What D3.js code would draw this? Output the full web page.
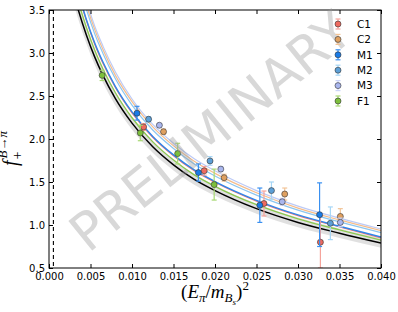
<!DOCTYPE html>
<html>
<head>
<meta charset="utf-8">
<script src="https://cdn.jsdelivr.net/npm/d3@7"></script>
<style>
body { margin: 0; background: #fff; }
text { font-family: "DejaVu Sans", sans-serif; }
</style>
</head>
<body>
<div id="chart"></div>
<script>
// fit curves at a few x positions
var xGrid   = [0.003, 0.0035, 0.0045, 0.0055, 0.0065, 0.008, 0.01, 0.0125, 0.015, 0.0175, 0.02, 0.025, 0.03, 0.035, 0.04];
var fitBlack = [3.68, 3.51, 3.21, 2.955, 2.74, 2.47, 2.185, 1.91, 1.70, 1.53, 1.40, 1.19, 1.03, 0.905, 0.79];
var bandErr  = [0.12, 0.11, 0.10, 0.09, 0.085, 0.08, 0.075, 0.07, 0.065, 0.062, 0.06, 0.058, 0.056, 0.055, 0.055];
var fitF1 = [3.785, 3.61, 3.30, 3.035, 2.815, 2.538, 2.247, 1.967, 1.755, 1.583, 1.45, 1.236, 1.072, 0.943, 0.825];
var fitC1 = [3.88, 3.70, 3.38, 3.105, 2.88, 2.60, 2.305, 2.02, 1.805, 1.63, 1.497, 1.278, 1.11, 0.978, 0.85];
var fitM1 = [3.90, 3.72, 3.39, 3.12, 2.895, 2.61, 2.315, 2.03, 1.815, 1.64, 1.505, 1.287, 1.117, 0.985, 0.86];
var fitM2 = [4.04, 3.85, 3.51, 3.225, 2.995, 2.70, 2.395, 2.105, 1.89, 1.71, 1.57, 1.348, 1.173, 1.036, 0.912];
var fitC2 = [4.10, 3.91, 3.56, 3.275, 3.04, 2.74, 2.435, 2.14, 1.92, 1.74, 1.60, 1.375, 1.197, 1.059, 0.935];
var fitM3 = [4.16, 3.96, 3.61, 3.315, 3.08, 2.78, 2.465, 2.17, 1.95, 1.77, 1.63, 1.40, 1.22, 1.08, 0.953];

// lattice data points
var c1X = [0.0114, 0.0187, 0.0259, 0.0327], c1Y = [2.14, 1.63, 1.25, 0.80], c1Err = [0.04, 0.05, 0.145, 0.30];
var c2X = [0.0138, 0.0211, 0.0284, 0.0351], c2Y = [2.085, 1.55, 1.36, 1.10], c2Err = [0.03, 0.04, 0.07, 0.09];
var m1X = [0.0106, 0.0180, 0.0254, 0.0326], m1Y = [2.30, 1.61, 1.23, 1.12], m1Err = [0.08, 0.10, 0.20, 0.37];
var m2X = [0.0120, 0.0194, 0.0268, 0.0339], m2Y = [2.23, 1.745, 1.40, 1.02], m2Err = [0.03, 0.05, 0.10, 0.19];
var m3X = [0.0133, 0.0207, 0.0281, 0.0351], m3Y = [2.16, 1.65, 1.27, 1.03], m3Err = [0.02, 0.03, 0.04, 0.05];
var f1X = [0.0064, 0.0110, 0.0155, 0.0199], f1Y = [2.74, 2.07, 1.83, 1.47], f1Err = [0.06, 0.09, 0.12, 0.18];

var seriesNames = ["C1", "C2", "M1", "M2", "M3", "F1"];
var xTicks = [0.000, 0.005, 0.010, 0.015, 0.020, 0.025, 0.030, 0.035, 0.040];
var yTicks = [0.5, 1.0, 1.5, 2.0, 2.5, 3.0, 3.5];
var pionLine = 0.00053;

var margins = {top: 10, right: 17, bottom: 44, left: 49};
var totalWidth = 398, totalHeight = 312;
var innerWidth = totalWidth - margins.left - margins.right;
var innerHeight = totalHeight - margins.top - margins.bottom;

var svg = d3.select("#chart").append("svg")
    .attr("width", totalWidth)
    .attr("height", totalHeight)
    .style("display", "block");
var g = svg.append("g")
    .attr("transform", "translate(" + margins.left + "," + margins.top + ")");

var xSca = d3.scaleLinear().domain([0, 0.04]).range([0, innerWidth]);
var ySca = d3.scaleLinear().domain([0.5, 3.5]).range([innerHeight, 0]);

g.append("defs").append("clipPath").attr("id", "clip")
    .append("rect").attr("width", innerWidth).attr("height", innerHeight);

var plot = g.append("g").attr("clip-path", "url(#clip)");

// grey error band round the black fit
var band = d3.area()
    .x(function(d, i) { return xSca(xGrid[i]); })
    .y0(function(d, i) { return ySca(d - bandErr[i]); })
    .y1(function(d, i) { return ySca(d + bandErr[i]); })
    .curve(d3.curveMonotoneX);
plot.append("path").datum(fitBlack)
    .attr("d", band)
    .attr("fill", "#000").attr("fill-opacity", 0.12);

var line = d3.line()
    .x(function(d, i) { return xSca(xGrid[i]); })
    .y(function(d) { return ySca(d); })
    .curve(d3.curveMonotoneX);

var fits = [
    {v: fitM3, c: "#bccaf6", w: 1.2},
    {v: fitC2, c: "#f5bd8c", w: 1.2},
    {v: fitM2, c: "#8cc6f0", w: 1.2},
    {v: fitC1, c: "#f07a70", w: 1.3},
    {v: fitM1, c: "#2f86ec", w: 1.4},
    {v: fitF1, c: "#8cc850", w: 1.3},
    {v: fitBlack, c: "#000", w: 1.5}
];
fits.forEach(function(f) {
    plot.append("path").datum(f.v)
        .attr("d", line)
        .attr("fill", "none")
        .attr("stroke", f.c)
        .attr("stroke-width", f.w);
});

// dashed vertical line near the physical pion mass
g.append("line")
    .attr("x1", xSca(pionLine)).attr("x2", xSca(pionLine))
    .attr("y1", 0).attr("y2", innerHeight)
    .attr("stroke", "#000").attr("stroke-width", 1.1)
    .attr("stroke-dasharray", "4,3");

var series = [
    {name: "C1", x: c1X, y: c1Y, e: c1Err, fill: "#ee6a5f", bar: "#f5a39b"},
    {name: "C2", x: c2X, y: c2Y, e: c2Err, fill: "#dfa060", bar: "#f2c497"},
    {name: "M1", x: m1X, y: m1Y, e: m1Err, fill: "#1a7be6", bar: "#3a90f0"},
    {name: "M2", x: m2X, y: m2Y, e: m2Err, fill: "#5c9fd6", bar: "#a6d6f6"},
    {name: "M3", x: m3X, y: m3Y, e: m3Err, fill: "#a9b6ee", bar: "#ccd4f8"},
    {name: "F1", x: f1X, y: f1Y, e: f1Err, fill: "#7cbf3c", bar: "#a8d874"}
];

var pts = plot.append("g");
series.forEach(function(s) {
    var sg = pts.append("g");
    s.x.forEach(function(xv, i) {
        var cx = xSca(xv), top = ySca(s.y[i] + s.e[i]), bot = ySca(s.y[i] - s.e[i]);
        sg.append("line").attr("x1", cx).attr("x2", cx).attr("y1", top).attr("y2", bot)
            .attr("stroke", s.bar).attr("stroke-width", 1.2);
        [top, bot].forEach(function(yy) {
            sg.append("line").attr("x1", cx - 2.5).attr("x2", cx + 2.5).attr("y1", yy).attr("y2", yy)
                .attr("stroke", s.bar).attr("stroke-width", 1.2);
        });
    });
    sg.selectAll("circle").data(s.x).enter().append("circle")
        .attr("cx", function(d) { return xSca(d); })
        .attr("cy", function(d, i) { return ySca(s.y[i]); })
        .attr("r", 3)
        .attr("fill", s.fill)
        .attr("stroke", "#333").attr("stroke-width", 0.6);
});

// watermark
svg.append("text")
    .attr("transform", "translate(210,131) rotate(-39)")
    .attr("text-anchor", "middle")
    .attr("dy", "0.36em")
    .attr("font-size", 52)
    .attr("fill", "#999").attr("fill-opacity", 0.38)
    .text("PRELIMINARY");

// axes, ticks pointing inwards on all four sides
var fmtX = d3.format(".3f"), fmtY = d3.format(".1f");
var xAA = g.append("g").attr("transform", "translate(0," + innerHeight + ")")
    .call(d3.axisBottom(xSca).tickValues(xTicks).tickSizeInner(-4).tickSizeOuter(0).tickPadding(5).tickFormat(fmtX));
var xTop = g.append("g")
    .call(d3.axisTop(xSca).tickValues(xTicks).tickSizeInner(-4).tickSizeOuter(0));
var yAA = g.append("g")
    .call(d3.axisLeft(ySca).tickValues(yTicks).tickSizeInner(-4).tickSizeOuter(0).tickPadding(4).tickFormat(fmtY));
var yRight = g.append("g").attr("transform", "translate(" + innerWidth + ",0)")
    .call(d3.axisRight(ySca).tickValues(yTicks).tickSizeInner(-4).tickSizeOuter(0));
xTop.selectAll("text").remove();
yRight.selectAll("text").remove();
[xAA, xTop, yAA, yRight].forEach(function(a) {
    a.select(".domain").remove();
    a.selectAll("text").attr("font-size", 10).attr("fill", "#000")
        .style("font-family", "'DejaVu Sans', sans-serif");
    a.selectAll(".tick line").attr("stroke", "#000");
});
g.append("rect")
    .attr("width", innerWidth).attr("height", innerHeight)
    .attr("fill", "none").attr("stroke", "#000").attr("stroke-width", 1);

// axis labels
var xl = svg.append("text")
    .attr("x", 215).attr("y", 298)
    .attr("text-anchor", "middle")
    .style("font-family", "'Liberation Serif', serif")
    .attr("font-size", 19);
xl.append("tspan").text("(");
xl.append("tspan").attr("font-style", "italic").text("E");
xl.append("tspan").attr("font-size", 13).attr("dy", 4).attr("font-style", "italic").text("π");
xl.append("tspan").attr("dy", -4).text("/");
xl.append("tspan").attr("font-style", "italic").text("m");
xl.append("tspan").attr("font-size", 13).attr("dy", 4).attr("font-style", "italic").text("B");
xl.append("tspan").attr("font-size", 9).attr("dy", 3).attr("font-style", "italic").text("s");
xl.append("tspan").attr("dy", -7).text(")");
xl.append("tspan").attr("font-size", 13).attr("dy", -8).text("2");

var yl = svg.append("text")
    .attr("transform", "translate(17,166) rotate(-90)")
    .style("font-family", "'Liberation Serif', serif")
    .attr("font-size", 20);
yl.append("tspan").attr("font-style", "italic").text("f");
yl.append("tspan").attr("font-size", 14).attr("dx", 1).attr("dy", 5).text("+");
yl.append("tspan").attr("font-size", 13).attr("dx", -7).attr("dy", -15).attr("font-style", "italic").text("B");
yl.append("tspan").attr("font-size", 13).text("→");
yl.append("tspan").attr("font-size", 13).attr("font-style", "italic").text("π");

// legend
var legend = svg.selectAll(".legend")
    .data(series)
    .enter().append("g")
    .attr("class", "legend")
    .attr("transform", function(d, i) { return "translate(338," + (24 + i * 15.4) + ")"; });
legend.append("line").attr("y1", -5).attr("y2", 5)
    .attr("stroke", function(d) { return d.bar; }).attr("stroke-width", 1.2);
legend.append("line").attr("x1", -2.5).attr("x2", 2.5).attr("y1", -5).attr("y2", -5)
    .attr("stroke", function(d) { return d.bar; }).attr("stroke-width", 1.2);
legend.append("line").attr("x1", -2.5).attr("x2", 2.5).attr("y1", 5).attr("y2", 5)
    .attr("stroke", function(d) { return d.bar; }).attr("stroke-width", 1.2);
legend.append("circle").attr("r", 3)
    .attr("fill", function(d) { return d.fill; })
    .attr("stroke", "#333").attr("stroke-width", 0.6);
legend.append("text")
    .attr("x", 19).attr("dy", "0.36em")
    .attr("font-size", 10.5)
    .text(function(d) { return d.name; });
</script>
</body>
</html>
